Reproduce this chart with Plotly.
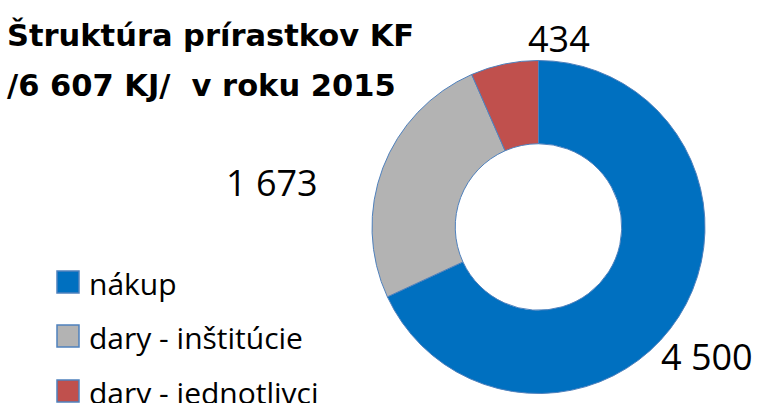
import plotly.graph_objects as go

categories = ["nákup", "dary - inštitúcie", "dary - jednotlivci"]
values = [4500, 1673, 434]
colors = ["#0070C0", "#B3B3B3", "#C0504D"]
title_lines = ["Štruktúra prírastkov KF", "/6 607 KJ/\u00a0 v roku 2015"]

def fmt(v):
    return f"{v:,}".replace(",", " ")

W, H = 758, 403
FONT = "Open Sans"
TITLE_FONT = "DejaVu Sans"
EDGE = "#4F81BD"

fig = go.Figure()
fig.add_trace(go.Pie(
    labels=categories,
    values=values,
    hole=0.5,
    sort=False,
    direction="clockwise",
    rotation=0,
    marker=dict(colors=colors, line=dict(color=EDGE, width=1)),
    textinfo="none",
    hoverinfo="label+value",
    domain=dict(x=[372 / W, 705 / W], y=[(H - 394) / H, (H - 60) / H]),
    showlegend=False,
))

# data labels (pixel centres of the text)
label_pos = [(707, 353), (272, 180), (559, 35)]
for v, (px, py) in zip(values, label_pos):
    fig.add_annotation(
        text=fmt(v), x=px / W, y=1 - (py + 3) / H, xref="paper", yref="paper",
        xanchor="center", yanchor="middle", showarrow=False,
        font=dict(family=FONT, size=36, color="#000000"),
    )

# title, two lines
for i, line in enumerate(title_lines):
    fig.add_annotation(
        text="<b>" + line + "</b>",
        x=5 / W, y=1 - (35 + 50 * i) / H, xref="paper", yref="paper",
        xanchor="left", yanchor="middle", align="left", showarrow=False,
        font=dict(family=TITLE_FONT, size=30.5, color="#000000"),
    )

# legend
leg_y = [282, 336, 391]
for name, col, cy in zip(categories, colors, leg_y):
    fig.add_shape(
        type="rect", xref="paper", yref="paper",
        x0=57 / W, x1=79 / W, y0=1 - (cy - 11) / H, y1=1 - (cy + 11) / H,
        fillcolor=col, line=dict(color=EDGE, width=1.5),
    )
    fig.add_annotation(
        text=name, x=87 / W, y=1 - (cy + 1) / H, xref="paper", yref="paper",
        xanchor="left", yanchor="middle", showarrow=False,
        font=dict(family=FONT, size=30, color="#000000"),
    )

fig.update_layout(
    width=W, height=H,
    margin=dict(l=0, r=0, t=0, b=0),
    paper_bgcolor="white", plot_bgcolor="white",
    showlegend=False,
)

fig.write_html(
    "out.html",
    config={"displayModeBar": False},
    post_script="document.body.style.margin='0';document.body.style.overflow='hidden';",
)
